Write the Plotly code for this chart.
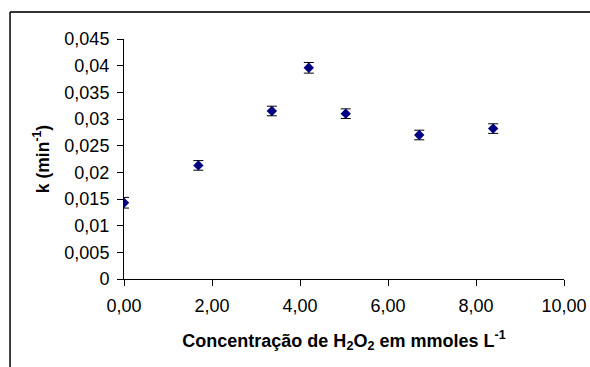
import plotly.graph_objects as go

conc = [0.0, 1.69, 3.36, 4.20, 5.04, 6.71, 8.39]
k_vals = [0.0143, 0.0213, 0.0315, 0.0396, 0.0310, 0.0270, 0.0282]
k_err = [0.0010, 0.0009, 0.0009, 0.0010, 0.0009, 0.0009, 0.0009]

x_ticks = [0, 2, 4, 6, 8, 10]
x_ticktext = ["0,00", "2,00", "4,00", "6,00", "8,00", "10,00"]
y_ticks = [0, 0.005, 0.01, 0.015, 0.02, 0.025, 0.03, 0.035, 0.04, 0.045]
y_ticktext = ["0", "0,005", "0,01", "0,015", "0,02", "0,025", "0,03", "0,035", "0,04", "0,045"]

FONT = "Liberation Sans, Arial, sans-serif"

fig = go.Figure()
fig.add_trace(go.Scatter(
    x=conc, y=k_vals, mode="markers",
    marker=dict(symbol="diamond", size=8, color="#000080"),
    error_y=dict(type="data", array=k_err, visible=True, color="black", thickness=1, width=5),
    showlegend=False,
))

fig.update_layout(
    width=590, height=367,
    margin=dict(l=124, r=26, t=39, b=88, autoexpand=False),
    paper_bgcolor="white", plot_bgcolor="white",
    font=dict(family=FONT, color="black"),
    xaxis=dict(
        range=[0, 10], tickvals=x_ticks, ticktext=x_ticktext, automargin=False,
        showline=True, linecolor="black", linewidth=1, mirror=False,
        ticks="outside", ticklen=6, tickcolor="black", showgrid=False, zeroline=False,
        tickfont=dict(size=18), ticklabelstandoff=4,
        title=dict(text="<b>Concentração de H<sub>2</sub>O<sub>2</sub> em mmoles L<sup>-1</sup></b>",
                   font=dict(size=18), standoff=19),
    ),
    yaxis=dict(
        range=[0, 0.045], tickvals=y_ticks, ticktext=y_ticktext, automargin=False,
        showline=True, linecolor="black", linewidth=1,
        ticks="outside", ticklen=6, tickcolor="black", showgrid=False, zeroline=False,
        tickfont=dict(size=18), ticklabelstandoff=4,
        title=dict(text="<b>k (min<sup>-1</sup>)</b>", font=dict(size=17.5), standoff=10),
    ),
    shapes=[
        dict(type="line", xref="paper", yref="paper", x0=-0.259, x1=1.1, y0=1.112, y1=1.112,
             line=dict(color="#333333", width=2)),
        dict(type="line", xref="paper", yref="paper", x0=-0.259, x1=-0.259, y0=1.112, y1=-0.5,
             line=dict(color="#000000", width=1.5)),
    ],
)

fig.write_html(
    "out.html",
    config={"displayModeBar": False},
    post_script="document.body.style.margin='0';document.body.style.padding='0';"
                "document.body.style.overflow='hidden';document.documentElement.style.overflow='hidden';",
)
